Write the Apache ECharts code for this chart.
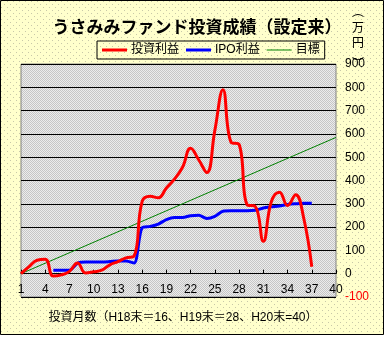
<!DOCTYPE html>
<html><head><meta charset="utf-8">
<script src="https://cdn.jsdelivr.net/npm/echarts@6/dist/echarts.min.js"></script>
<style>html,body{margin:0;padding:0;background:#fff}#c{width:385px;height:338px}</style>
</head><body><div id="c"></div>
<script>
// ---- data ----
const months = ['1','2','3','4','5','6','7','8','9','10','11','12','13','14','15','16','17','18','19','20',
  '21','22','23','24','25','26','27','28','29','30','31','32','33','34','35','36','37','38','39','40'];
const investProfit = [0,30,58,62,-10,-5,10,46,3,8,15,38,52,68,76,310,332,326,368,406,
  457,538,489,434,615,790,565,555,296,289,139,310,350,293,339,239,30];
const ipoProfit = [null,null,null,null,15,15,15,45,50,50,50,52,55,55,46,197,203,213,232,241,
  241,249,251,237,246,268,270,270,270,272,282,287,291,297,300,302,302];
const targetLine = [['1',0],['40',585]];
const yTicks = {min:-100, max:900, step:100};
const seriesNames = ['投資利益','IPO利益','目標'];
const titleText = 'うさみみファンド投資成績（設定来）';
const unitChars = ['︵','万','円','︶'];
const xName = '投資月数（H18末＝16、H19末＝28、H20末=40）';

// ---- textures ----
function makePattern(w, h, bg, dots) {
  const cv = document.createElement('canvas'); cv.width = w; cv.height = h;
  const g = cv.getContext('2d'); g.fillStyle = bg; g.fillRect(0,0,w,h);
  dots.forEach(d => { g.fillStyle = d[2]; g.fillRect(d[0], d[1], 1, 1); });
  return {image: cv, repeat: 'repeat'};
}
const pageBg = makePattern(6, 6, '#ffffcc', [[1,1,'#c8c8a8'],[4,4,'#c8c8a8']]);
const plotBg = makePattern(2, 2, '#c6c6c6', [[1,0,'#ececec'],[0,1,'#ececec']]);

const FF = '"Liberation Sans","Noto Sans CJK JP",sans-serif';
const JP = '"Noto Sans CJK JP",sans-serif';
const gridTop = 64, gridBottom = 41, chartH = 338;
const plotH = chartH - gridTop - gridBottom;
// distance of the value-0 line above the bottom of the plot
const zeroOffset = -plotH * (0 - yTicks.min) / (yTicks.max - yTicks.min);

const unitY = [11, 27, 42, 63];
const unitGraphics = unitChars.map((ch, i) => ({
  type: 'text', x: 358, y: unitY[i], silent: true, z: 10,
  style: {text: ch, align: 'center', verticalAlign: 'middle', fill: '#000',
          font: '12px "Noto Sans CJK JP",sans-serif'}
}));

const chart = echarts.init(document.getElementById('c'), null, {renderer:'canvas'});
chart.setOption({
  animation: false,
  backgroundColor: pageBg,
  textStyle: {fontFamily: FF},
  title: [
    {text: titleText, left: 192, top: 13, textAlign: 'center',
     textStyle: {fontSize: 17, fontWeight: 'bold', color: '#000', fontFamily: JP}},
    {text: xName, left: 178, top: 307, textAlign: 'center',
     textStyle: {fontSize: 12, fontWeight: 'normal', color: '#000', fontFamily: FF}}
  ],
  legend: {
    left: 97, top: 41, orient: 'horizontal',
    borderColor: '#000', borderWidth: 1, padding: [3,5,3,5],
    itemGap: 7, itemWidth: 25, itemHeight: 3,
    textStyle: {fontSize: 12, color: '#000', fontFamily: FF, padding: [0,0,0,-1]},
    data: [
      {name: seriesNames[0], icon: 'rect'},
      {name: seriesNames[1], icon: 'rect'},
      {name: seriesNames[2], icon: 'path://M0,0M25,3M0,1H25V2H0Z'}
    ]
  },
  grid: {left: 21, right: 49, top: gridTop, bottom: gridBottom, show: true,
         borderColor: '#808080', borderWidth: 1, backgroundColor: plotBg},
  xAxis: {
    type: 'category', data: months, boundaryGap: false, offset: zeroOffset,
    axisLine: {onZero: false, lineStyle: {color: '#000', width: 1}},
    axisTick: {inside: true, length: 4, interval: 2, lineStyle: {color: '#000'}},
    axisLabel: {interval: 2, margin: 10, fontSize: 12, color: '#000', fontFamily: FF},
    splitLine: {show: false}
  },
  yAxis: {
    type: 'value', position: 'right', min: yTicks.min, max: yTicks.max, interval: yTicks.step,
    axisLine: {show: false}, axisTick: {show: false},
    splitLine: {lineStyle: {color: '#000', width: 1}},
    axisLabel: {margin: 9, fontSize: 12, fontFamily: FF,
      color: v => (Number(v) < 0 ? '#ff0000' : '#000')}
  },
  series: [
    {name: seriesNames[0], type: 'line', data: investProfit, smooth: 0.45, symbol: 'none',
     lineStyle: {color: '#ff0000', width: 3}, itemStyle: {color: '#ff0000'}, z: 4},
    {name: seriesNames[1], type: 'line', data: ipoProfit, smooth: 0.3, symbol: 'none',
     lineStyle: {color: '#0000ff', width: 3}, itemStyle: {color: '#0000ff'}, z: 3},
    {name: seriesNames[2], type: 'line', data: targetLine, symbol: 'none',
     lineStyle: {color: '#008000', width: 1}, itemStyle: {color: '#008000'}, z: 2}
  ],
  graphic: unitGraphics.concat([
    {type: 'rect', shape: {x: 0, y: 335, width: 385, height: 3}, style: {fill: '#fff'}, silent: true},
    {type: 'rect', shape: {x: 384, y: 0, width: 1, height: 338}, style: {fill: '#fff'}, silent: true},
    {type: 'rect', shape: {x: 0.5, y: 0.5, width: 383, height: 334}, style: {fill: null, stroke: '#000', lineWidth: 1}, silent: true}
  ])
});
</script></body></html>
